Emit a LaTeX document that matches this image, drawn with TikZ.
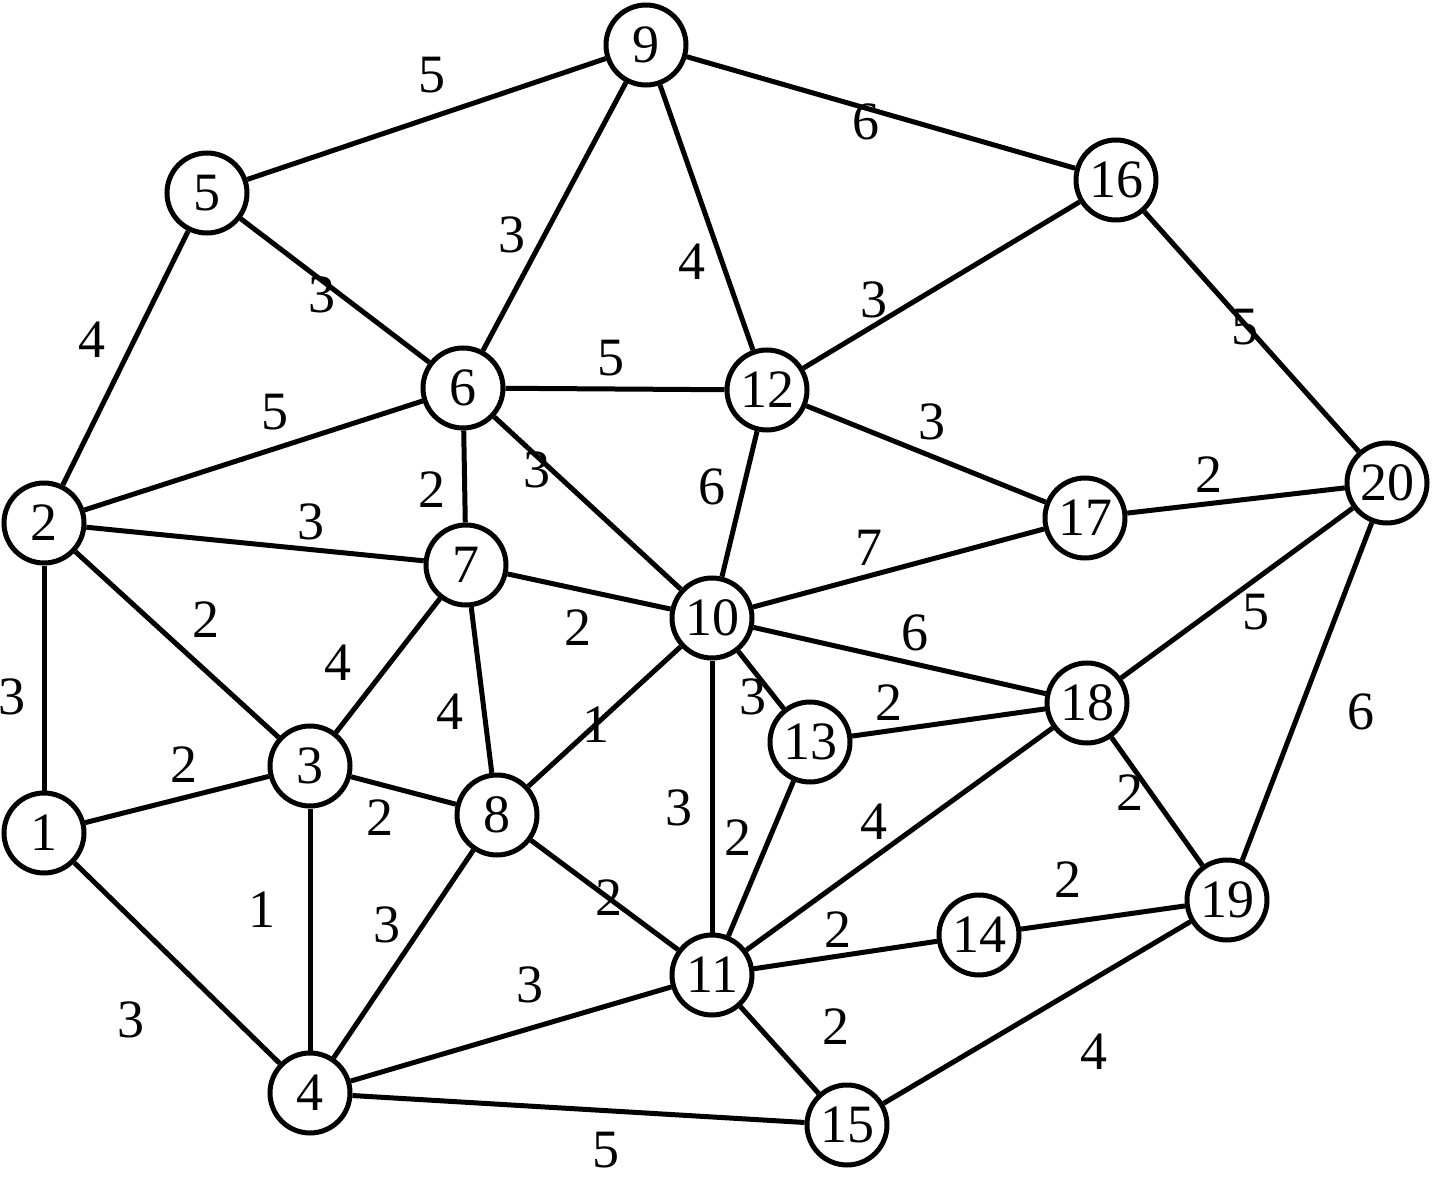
\documentclass[tikz,border=0pt]{standalone}
\usepackage{fontspec}
\setmainfont{Liberation Serif}
\begin{document}
\begin{tikzpicture}[x=0.5pt,y=-0.5pt,
  vtx/.style={circle,draw,line width=2.5pt,minimum size=40pt,inner sep=0pt,fill=white,font=\fontsize{27}{30}\selectfont},
  lbl/.style={font=\fontsize{27}{30}\selectfont,inner sep=0pt},
  edge/.style={line width=2.5pt}]
\useasboundingbox (0,0) rectangle (1437,1188);
\node[vtx] (n1) at (44,833) {1};
\node[vtx] (n2) at (44,523) {2};
\node[vtx] (n3) at (310,766) {3};
\node[vtx] (n4) at (310,1093) {4};
\node[vtx] (n5) at (207,193) {5};
\node[vtx] (n6) at (463,388) {6};
\node[vtx] (n7) at (466,565) {7};
\node[vtx] (n8) at (497,815) {8};
\node[vtx] (n9) at (646,45) {9};
\node[vtx] (n10) at (712,618) {10};
\node[vtx] (n11) at (712,975) {11};
\node[vtx] (n12) at (767,390) {12};
\node[vtx] (n13) at (810,742) {13};
\node[vtx] (n14) at (979,935) {14};
\node[vtx] (n15) at (847,1125) {15};
\node[vtx] (n16) at (1116,180) {16};
\node[vtx] (n17) at (1085,518) {17};
\node[vtx] (n18) at (1087,703) {18};
\node[vtx] (n19) at (1227,900) {19};
\node[vtx] (n20) at (1387,483) {20};
\foreach \a/\b in {1/2,1/3,1/4,2/5,2/6,2/7,2/3,3/7,3/8,3/4,4/8,4/11,4/15,5/9,5/6,6/9,6/12,6/7,6/10,7/10,7/8,8/10,8/11,9/12,9/16,10/12,10/17,10/18,10/13,10/11,11/13,11/18,11/14,11/15,12/16,12/17,13/18,14/19,15/19,16/20,17/20,18/20,18/19,19/20}
  \draw[edge] (n\a) -- (n\b);
\node[lbl] (l1) at (432,75) {5};
\node[lbl] (l2) at (866,122) {6};
\node[lbl] (l3) at (512,235) {3};
\node[lbl] (l4) at (692,262) {4};
\node[lbl] (l5) at (322,295) {3};
\node[lbl] (l6) at (92,340) {4};
\node[lbl] (l7) at (275,412) {5};
\node[lbl] (l8) at (611,358) {5};
\node[lbl] (l9) at (874,300) {3};
\node[lbl] (l10) at (1245,327) {5};
\node[lbl] (l11) at (932,422) {3};
\node[lbl] (l12) at (432,490) {2};
\node[lbl] (l13) at (537,470) {3};
\node[lbl] (l14) at (712,487) {6};
\node[lbl] (l15) at (311,522) {3};
\node[lbl] (l16) at (1209,475) {2};
\node[lbl] (l17) at (869,548) {7};
\node[lbl] (l18) at (206,620) {2};
\node[lbl] (l19) at (578,628) {2};
\node[lbl] (l20) at (915,633) {6};
\node[lbl] (l21) at (1256,612) {5};
\node[lbl] (l22) at (12,697) {3};
\node[lbl] (l23) at (338,663) {4};
\node[lbl] (l24) at (450,712) {4};
\node[lbl] (l25) at (596,725) {1};
\node[lbl] (l26) at (753,697) {3};
\node[lbl] (l27) at (889,703) {2};
\node[lbl] (l28) at (1361,712) {6};
\node[lbl] (l29) at (184,765) {2};
\node[lbl] (l30) at (380,818) {2};
\node[lbl] (l31) at (679,808) {3};
\node[lbl] (l32) at (738,838) {2};
\node[lbl] (l33) at (874,822) {4};
\node[lbl] (l34) at (1130,793) {2};
\node[lbl] (l35) at (262,910) {1};
\node[lbl] (l36) at (387,925) {3};
\node[lbl] (l37) at (609,898) {2};
\node[lbl] (l38) at (838,930) {2};
\node[lbl] (l39) at (1068,880) {2};
\node[lbl] (l40) at (530,985) {3};
\node[lbl] (l41) at (131,1020) {3};
\node[lbl] (l42) at (836,1027) {2};
\node[lbl] (l43) at (1094,1052) {4};
\node[lbl] (l44) at (606,1150) {5};
\end{tikzpicture}
\end{document}
